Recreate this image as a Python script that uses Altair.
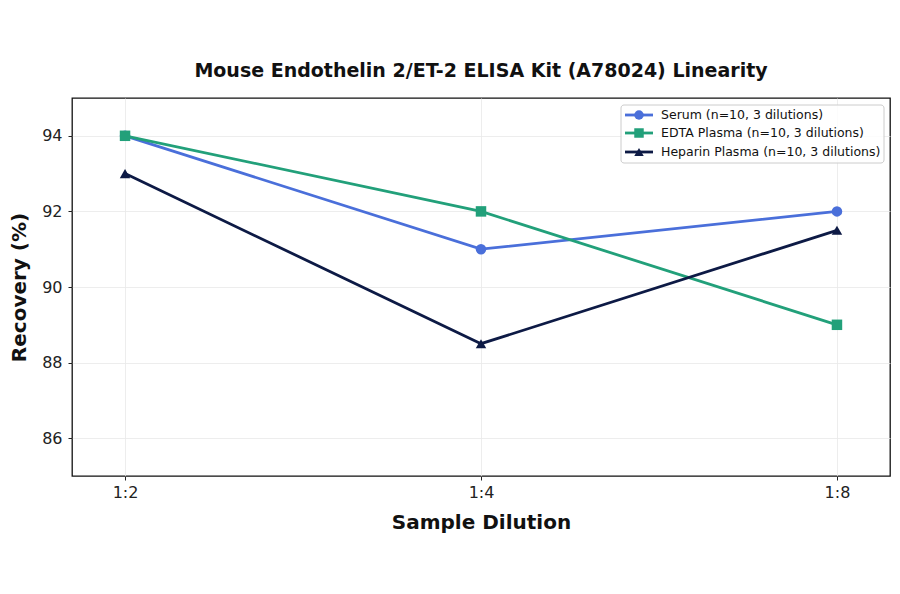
import altair as alt
import pandas as pd

dilutions = ["1:2", "1:4", "1:8"]
series = [
    "Serum (n=10, 3 dilutions)",
    "EDTA Plasma (n=10, 3 dilutions)",
    "Heparin Plasma (n=10, 3 dilutions)",
]
serum = [94, 91, 92]
edta = [94, 92, 89]
heparin = [93, 88.5, 91.5]
colors = ["#4A6FDA", "#22A07A", "#0D1A45"]
shapes = ["circle", "square", "triangle-up"]

rows = []
for name, vals in zip(series, [serum, edta, heparin]):
    for d, v in zip(dilutions, vals):
        rows.append({"series": name, "dilution": d, "recovery": v})
df = pd.DataFrame(rows)

FONT = "DejaVu Sans"

x = alt.X(
    "dilution:N",
    sort=dilutions,
    scale=alt.Scale(type="point", padding=0.149),
    axis=alt.Axis(
        title="Sample Dilution", labelAngle=0, labelFontSize=16, labelColor="#222",
        titleFontSize=20, titleFontWeight="bold", titlePadding=12, labelPadding=4,
        tickSize=4, tickColor="#222", grid=True, gridColor="#e8e8e8", gridWidth=0.8,
        domain=False,
    ),
)
y = alt.Y(
    "recovery:Q",
    scale=alt.Scale(domain=[85, 95], nice=False, zero=False),
    axis=alt.Axis(
        title="Recovery (%)", values=[86, 88, 90, 92, 94], labelFontSize=16,
        labelColor="#222", titleFontSize=20, titleFontWeight="bold", titlePadding=12,
        labelPadding=6, tickSize=4, tickColor="#222", grid=True, gridColor="#e8e8e8",
        gridWidth=0.8, domain=False,
    ),
)
color = alt.Color("series:N", scale=alt.Scale(domain=series, range=colors), legend=None)
shape = alt.Shape("series:N", scale=alt.Scale(domain=series, range=shapes), legend=None)

layers = []
for i, name in enumerate(series):
    sub = df[df["series"] == name]
    base = alt.Chart(sub).encode(x=x, y=y, color=color)
    layers.append(base.mark_line(strokeWidth=2.8))
    layers.append(
        base.mark_point(filled=True, opacity=1, size=110).encode(shape=shape)
    )

# legend box inside plot, top right
legend_layers = [
    alt.Chart(pd.DataFrame({"a": [0]})).mark_rect(
        fill="white", fillOpacity=0.8, stroke="#cccccc", strokeWidth=1, cornerRadius=3
    ).encode(x=alt.value(549), x2=alt.value(812), y=alt.value(7), y2=alt.value(65))
]
row_y = [17, 35, 54]
for name, c, s, ry in zip(series, colors, shapes, row_y):
    one = alt.Chart(pd.DataFrame({"label": [name]}))
    legend_layers.append(
        one.mark_rule(color=c, strokeWidth=2.8).encode(
            x=alt.value(553), x2=alt.value(581), y=alt.value(ry)
        )
    )
    legend_layers.append(
        one.mark_point(filled=True, opacity=1, color=c, shape=s, size=90).encode(
            x=alt.value(567), y=alt.value(ry)
        )
    )
    legend_layers.append(
        one.mark_text(align="left", baseline="middle", font=FONT, fontSize=12.5, color="#111").encode(
            x=alt.value(589), y=alt.value(ry), text="label:N"
        )
    )

chart = (
    alt.layer(*layers, *legend_layers)
    .properties(
        width=818,
        height=378,
        title=alt.TitleParams(
            "Mouse Endothelin 2/ET-2 ELISA Kit (A78024) Linearity",
            fontSize=19, fontWeight="bold", font=FONT, color="#111",
            anchor="middle", offset=17,
        ),
        autosize=alt.AutoSizeParams(type="none"),
        padding={"left": 64, "top": 90, "right": 2, "bottom": 100},
    )
    .configure(font=FONT, background="white")
    .configure_view(stroke="#111", strokeWidth=1.3)
    .configure_axis(labelFont=FONT, titleFont=FONT, titleColor="#111")
)

chart.save("out.html", embed_options={"renderer": "svg", "actions": False})
